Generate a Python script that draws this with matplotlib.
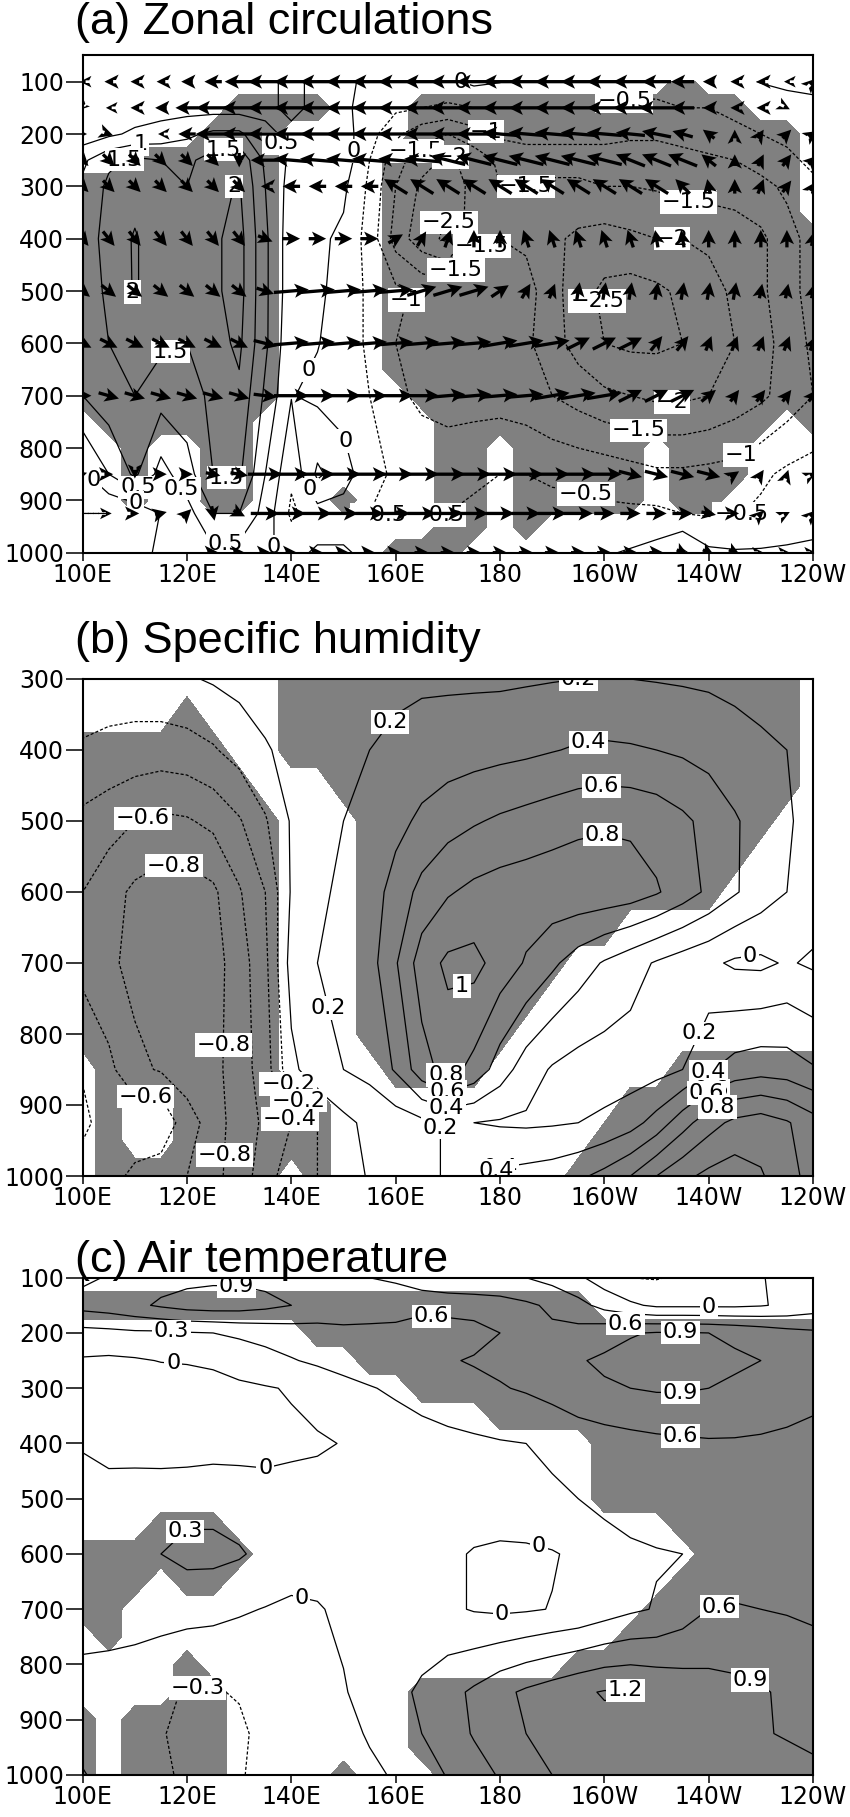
import numpy as np
import matplotlib
matplotlib.use("Agg")
import matplotlib.pyplot as plt

# ---------------- data ----------------
LON = [100, 105, 110, 115, 120, 125, 130, 135, 140, 145, 150, 155, 160, 165, 170,
       175, 180, 185, 190, 195, 200, 205, 210, 215, 220, 225, 230, 235, 240]
LEV_A = [100, 150, 200, 250, 300, 400, 500, 600, 700, 850, 925, 1000]
LEV_B = [300, 400, 500, 600, 700, 850, 925, 1000]
LEV_C = [100, 150, 200, 250, 300, 400, 500, 600, 700, 850, 925, 1000]
MASK_LEV_A = [100, 150, 200, 250, 300, 350, 400, 450, 500, 550, 600, 650, 700, 750, 800, 850, 900, 950, 1000]
MASK_LEV_B = [300, 350, 400, 450, 500, 550, 600, 650, 700, 750, 800, 850, 900, 950, 1000]
MASK_LEV_C = MASK_LEV_A

XTICKS = [100, 120, 140, 160, 180, 200, 220, 240]
XTICKLABELS = ["100E", "120E", "140E", "160E", "180", "160W", "140W", "120W"]

# (a) vertical-motion anomaly (contours)
A_FIELD = [
    [0.02, 0.02, 0.1, 0.1, 0.1, 0.2, 0.3, 0.4, 0.6, 0.4, 0.1, -0.1, -0.2, -0.2, -0.1, 0.1, 0.02, -0.2, -0.2, -0.3, -0.3, -0.3, -0.3, -0.3, -0.2, -0.1, 0.02, 0.1, 0.1],
    [0.1, 0.1, 0.2, 0.3, 0.3, 0.3, 0.3, 0.4, 0.6, 0.4, 0.1, -0.2, -0.4, -0.5, -0.6, -0.5, -0.5, -0.5, -0.5, -0.5, -0.5, -0.6, -0.6, -0.5, -0.5, -0.4, -0.3, -0.2, -0.1],
    [0.2, 0.4, 0.6, 0.7, 0.9, 1.1, 1.1, 0.6, 0.4, 0.4, 0.2, -0.3, -0.9, -1.3, -1.5, -1.2, -0.9, -0.8, -0.8, -0.8, -0.8, -0.9, -0.9, -0.8, -0.7, -0.6, -0.5, -0.4, -0.3],
    [0.9, 1.4, 1.6, 1.5, 1.4, 1.7, 1.9, 0.9, 0.4, 0.5, 0.3, -0.5, -1.3, -1.8, -2.1, -1.8, -1.4, -1.3, -1.3, -1.3, -1.3, -1.3, -1.3, -1.2, -1.1, -1.0, -0.8, -0.6, -0.4],
    [1.1, 1.6, 1.8, 1.6, 1.5, 1.8, 2.05, 1.0, 0.3, 0.3, 0.1, -0.6, -1.5, -2.1, -2.4, -1.8, -1.5, -1.5, -1.6, -1.6, -1.5, -1.5, -1.45, -1.3, -1.3, -1.25, -1.15, -0.9, -0.6],
    [1.2, 1.7, 2.05, 1.7, 1.6, 1.9, 2.2, 1.1, 0.2, 0.1, -0.1, -0.7, -1.7, -2.3, -2.6, -1.6, -1.5, -1.6, -1.9, -2.1, -2.2, -2.1, -2.0, -2.0, -1.9, -1.8, -1.6, -1.2, -0.8],
    [1.2, 1.6, 2.05, 1.7, 1.6, 1.9, 2.2, 1.1, 0.2, 0.1, -0.2, -0.6, -0.9, -1.1, -1.2, -1.1, -1.0, -1.3, -1.8, -2.3, -2.6, -2.7, -2.6, -2.4, -2.2, -1.9, -1.6, -1.2, -0.8],
    [1.2, 1.5, 1.7, 1.6, 1.5, 1.8, 2.1, 1.1, 0.1, 0.02, -0.2, -0.6, -1.0, -1.2, -1.3, -1.1, -1.1, -1.4, -1.8, -2.2, -2.5, -2.6, -2.6, -2.5, -2.3, -2.0, -1.7, -1.3, -0.9],
    [1.0, 1.3, 1.5, 1.2, 1.3, 1.6, 1.9, 0.9, 0.02, -0.1, -0.2, -0.5, -0.9, -1.1, -1.2, -1.2, -1.2, -1.3, -1.5, -1.7, -1.9, -2.0, -2.1, -2.1, -2.0, -1.8, -1.6, -1.3, -1.0],
    [-0.1, 0.5, 1.1, 0.3, 0.8, 1.5, 1.6, 0.5, -0.4, 0.6, 0.2, -0.3, -0.6, -0.7, -0.7, -0.6, -0.5, -0.5, -0.6, -0.65, -0.7, -0.8, -0.9, -0.9, -0.85, -0.8, -0.6, -0.4, -0.3],
    [-0.5, -0.5, -0.4, 0.02, 0.3, 1.0, 1.0, 0.3, -0.6, -0.2, -0.2, -0.5, -0.55, -0.55, -0.5, -0.4, -0.3, -0.3, -0.3, -0.3, -0.4, -0.4, -0.4, -0.5, -0.55, -0.55, -0.4, -0.2, -0.1],
    [-0.2, -0.2, -0.1, 0.05, 0.2, 0.4, 0.3, 0.05, -0.1, 0.05, 0.05, -0.1, -0.1, -0.1, -0.1, -0.05, -0.05, -0.05, -0.05, -0.05, -0.05, 0.05, 0.2, 0.6, 0.1, 0.05, 0.05, 0.05, 0.05],
]

# (a) zonal wind / vertical motion vectors
A_U = [
    [-2, -3, -3, -3, -4, -6, -10, -12, -12, -12, -12, -12, -12, -12, -12, -12, -12, -12, -12, -12, -12, -12, -10, -8, -4, -3, -3, -2, 2],
    [-1, -2, -3, -4, -8, -12, -12, -12, -12, -12, -12, -12, -12, -12, -12, -12, -12, -12, -12, -12, -12, -12, -12, -8, -4, -3, -3, 2, 0],
    [3, 3, 0, -2, -6, -12, -12, -12, -12, -12, -12, -12, -12, -12, -12, -12, -12, -12, -12, -12, -12, -10, -10, -7, -4, 0, 2, 3, 3],
    [4, 4, 4, 4, 4, 4, 0, -10, -12, -12, -12, -12, -12, -12, -12, -12, -12, -12, -12, -12, -12, -10, -10, -10, -5, 0, 2, 3, 3],
    [4, 4, 4, 4, 4, 4, 4, -3, -6, -6, -6, -6, -8, -8, -8, -8, -8, -8, -8, -8, -8, -8, -8, -5, -1, 0, 2, 3, 2],
    [4, 4, 4, 4, 4, 4, 4, 5, 6, 6, 6, 6, 5, 3, 2, 0, 0, -2, -2, -2, -2, -2, -1, -1, 0, 0, 0, 0, 1],
    [5, 5, 5, 5, 5, 5, 5, 6, 12, 12, 12, 12, 12, 10, 10, 10, 6, 3, 2, 1, 1, 1, 1, 1, 1, 1, 1, 1, 1],
    [6, 6, 6, 6, 6, 6, 6, 8, 12, 12, 12, 12, 12, 12, 12, 12, 12, 12, 12, 8, 8, 8, 4, 4, 2, 2, 2, 2, 2],
    [6, 7, 7, 7, 7, 7, 7, 8, 12, 12, 12, 12, 12, 12, 12, 12, 12, 12, 12, 12, 12, 8, 8, 8, 5, 3, 3, 3, 3],
    [3, 3, 0, 4, 4, 5, 6, 12, 12, 12, 12, 12, 12, 12, 12, 12, 12, 12, 12, 12, 12, 8, 8, 8, 8, 3, 2, 1, 2],
    [0, 2, 3, 4, 3, 1, 4, 10, 10, 10, 10, 10, 10, 10, 10, 10, 10, 10, 10, 10, 7, 7, 7, 7, 5, 3, 2, 2, 2],
    [0, 0, 0, 0, 0, 4, 4, 4, 4, 4, 4, 4, 4, 5, 5, 5, 5, 5, 5, 5, 5, 5, 5, 4, 4, 4, 2, 2, 2],
]
A_W = [
    [0, 0, 0, 0, 0, 0, 0, 0, 0, 0, 0, 0, 0, 0, 0, 0, 0, 0, 0, 0, 0, 0, 0, 0, 0, 0, 0, 0, 2],
    [-1, 0, 0, 0, 0, 0, 0, 0, 0, 0, 0, 0, 0, 0, 0, 0, 0, 0, 0, 0, 0, 0, 0, 0, 0, 0, 0, -1, 0],
    [0, -1, 0, 0, 0, 0, 0, 0, 0, 0, 0, 0, 0, 0, 0, 0, 1, 1, 1, 1, 1, 1, 2, 2, 3, 3, 3, 3, 2],
    [-4, -4, -4, -4, -4, -4, -5, 0, 1, 1, 1, 1, 1, 1, 3, 3, 3, 3, 3, 3, 3, 4, 4, 4, 4, 4, 4, 4, 3],
    [-4, -4, -4, -4, -4, -4, -4, 0, 0, 0, 0, 0, 5, 5, 5, 5, 5, 5, 5, 5, 5, 5, 5, 5, 5, 5, 5, 4, 3],
    [-5, -5, -5, -5, -5, -5, -5, -2, 0, 0, 0, 0, 3, 5, 6, 6, 6, 6, 6, 6, 6, 6, 6, 6, 6, 6, 6, 6, 5],
    [-4, -4, -4, -4, -4, -4, -4, -2, 1, 1, 1, 1, 1, 3, 3, 3, 4, 5, 5, 6, 6, 6, 6, 6, 6, 6, 5, 5, 5],
    [-3, -3, -3, -3, -3, -3, -3, -2, 1, 1, 1, 1, 1, 1, 1, 1, 2, 2, 2, 4, 4, 4, 5, 5, 5, 5, 5, 5, 5],
    [0, -2, -2, -2, -2, -2, -2, -1, 0, 0, 0, 0, 0, 0, 1, 1, 1, 1, 2, 2, 2, 4, 4, 4, 4, 4, 4, 4, 4],
    [1, 0, -3, 0, 0, -1, -1, 0, 0, 0, 0, 0, 0, 0, 0, 0, 0, 0, 0, 0, 0, -2, -2, -2, -2, 2, 3, 3, 1],
    [0, 0, 0, 1, 3, -5, -2, 0, 0, 0, 0, 0, 0, 0, 0, 0, 0, 0, 0, 0, 0, 0, 0, 0, -1, 0, 2, 1, 2],
    [0, 0, 0, 0, 0, 0, 0, 0, 0, 0, 0, 0, 0, 0, 0, 0, 0, 0, 0, 0, 0, 0, 0, -2, -2, -2, 0, 0, 0],
]

# (a) significance mask (1 = shaded)
A_MASK = [
    "00000000000000000000000100000",
    "00000011110001111111111111000",
    "00000111000001111111111111110",
    "00111111000011111111111111110",
    "11111111000011111111111111110",
    "11111111000011111111111111110",
    "11111111000011111111111111111",
    "11111111000011111111111111111",
    "11111111000011111111111111111",
    "11111111000011111111111111111",
    "11111111000011111111111111111",
    "11111111000011111111111111111",
    "11111111000001111111111111111",
    "01111110000000111111111111101",
    "00100110000000110111110111000",
    "00100110000000110111110111000",
    "00100110001000110111110110000",
    "00000000000000110100000000000",
    "00000000000011100000000000000",
]

# (b) specific humidity anomaly
B_FIELD = [
    [-0.10, -0.10, -0.08, -0.05, -0.02, 0.02, 0.06, 0.10, 0.12, 0.13, 0.14, 0.15, 0.16, 0.17, 0.17, 0.17, 0.17, 0.18, 0.19, 0.20, 0.21, 0.20, 0.19, 0.18, 0.17, 0.15, 0.12, 0.10, 0.08],
    [-0.22, -0.25, -0.28, -0.30, -0.28, -0.22, -0.12, -0.02, 0.06, 0.12, 0.16, 0.20, 0.24, 0.28, 0.30, 0.32, 0.34, 0.36, 0.39, 0.42, 0.43, 0.42, 0.40, 0.37, 0.33, 0.28, 0.24, 0.20, 0.14],
    [-0.45, -0.52, -0.60, -0.64, -0.62, -0.55, -0.42, -0.22, 0.02, 0.16, 0.20, 0.26, 0.34, 0.44, 0.52, 0.58, 0.63, 0.67, 0.71, 0.75, 0.77, 0.76, 0.72, 0.64, 0.54, 0.42, 0.32, 0.22, 0.14],
    [-0.60, -0.72, -0.84, -0.90, -0.90, -0.84, -0.62, -0.40, 0.02, 0.18, 0.22, 0.30, 0.48, 0.66, 0.78, 0.85, 0.89, 0.91, 0.93, 0.94, 0.93, 0.90, 0.82, 0.70, 0.56, 0.42, 0.30, 0.20, 0.12],
    [-0.66, -0.76, -0.86, -0.93, -0.93, -0.88, -0.70, -0.45, 0.08, 0.20, 0.24, 0.32, 0.58, 0.90, 1.04, 1.06, 0.92, 0.78, 0.64, 0.50, 0.38, 0.28, 0.18, 0.10, 0.04, -0.03, -0.04, 0.02, -0.03],
    [-0.42, -0.55, -0.75, -0.82, -0.86, -0.86, -0.70, -0.50, -0.05, 0.12, 0.20, 0.26, 0.42, 0.72, 0.88, 0.74, 0.50, 0.30, 0.18, 0.12, 0.10, 0.10, 0.13, 0.20, 0.38, 0.48, 0.52, 0.50, 0.42],
    [-0.35, -0.50, -0.45, -0.40, -0.75, -0.85, -0.75, -0.55, -0.40, -0.20, -0.05, 0.05, 0.10, 0.15, 0.22, 0.20, 0.18, 0.17, 0.18, 0.20, 0.24, 0.32, 0.48, 0.72, 0.92, 1.05, 1.10, 1.02, 0.88],
    [-0.50, -0.52, -0.65, -0.75, -0.80, -0.85, -0.72, -0.48, -0.30, -0.20, -0.10, 0.02, 0.10, 0.15, 0.22, 0.35, 0.44, 0.47, 0.50, 0.56, 0.66, 0.80, 1.00, 1.15, 1.25, 1.30, 1.22, 1.08, 0.92],
]
B_MASK = [
    "00000000111111111111111111110",
    "00001000111111111111111111110",
    "11111100111111111111111111110",
    "11111110001111111111111111110",
    "11111111000111111111111111100",
    "11111111000111111111111111000",
    "11111111000111111111111110000",
    "11111111000111111111100000000",
    "11111111000111111110000000000",
    "11111111000111111100000000000",
    "11111111000111111000000000000",
    "01111111000011110000000111111",
    "01001111110000000000011111111",
    "01001111110000000000111111111",
    "01111111010000000001111111111",
]

# (c) air temperature anomaly
C_FIELD = [
    [0.55, 0.62, 0.72, 0.80, 0.82, 0.84, 0.84, 0.82, 0.78, 0.70, 0.62, 0.60, 0.58, 0.55, 0.50, 0.45, 0.40, 0.30, 0.20, 0.05, -0.15, -0.30, -0.32, -0.25, -0.15, -0.10, -0.02, 0.10, 0.20],
    [0.70, 0.75, 0.84, 0.94, 1.02, 1.05, 1.04, 0.98, 0.90, 0.78, 0.72, 0.70, 0.68, 0.66, 0.68, 0.70, 0.70, 0.65, 0.55, 0.40, 0.20, 0.05, -0.05, -0.05, -0.05, -0.05, -0.02, 0.05, 0.15],
    [0.20, 0.22, 0.25, 0.25, 0.28, 0.30, 0.35, 0.40, 0.45, 0.50, 0.55, 0.55, 0.55, 0.50, 0.50, 0.52, 0.60, 0.62, 0.65, 0.70, 0.80, 0.88, 0.92, 0.92, 0.90, 0.85, 0.78, 0.70, 0.65],
    [-0.03, -0.05, -0.03, 0.01, 0.02, 0.05, 0.12, 0.20, 0.28, 0.35, 0.42, 0.48, 0.52, 0.55, 0.58, 0.62, 0.66, 0.72, 0.80, 0.88, 0.94, 0.98, 1.00, 1.00, 0.98, 0.94, 0.90, 0.82, 0.75],
    [-0.10, -0.12, -0.15, -0.15, -0.12, -0.10, -0.05, -0.02, 0.02, 0.10, 0.20, 0.28, 0.35, 0.42, 0.48, 0.53, 0.58, 0.63, 0.70, 0.80, 0.87, 0.90, 0.93, 0.93, 0.90, 0.86, 0.80, 0.72, 0.66],
    [-0.02, -0.10, -0.12, -0.15, -0.15, -0.12, -0.10, -0.08, -0.05, -0.03, 0.01, 0.05, 0.12, 0.18, 0.22, 0.25, 0.28, 0.30, 0.36, 0.42, 0.46, 0.50, 0.53, 0.55, 0.57, 0.57, 0.56, 0.55, 0.54],
    [0.10, 0.12, 0.15, 0.18, 0.20, 0.20, 0.15, 0.10, 0.10, 0.10, 0.12, 0.13, 0.14, 0.15, 0.15, 0.15, 0.16, 0.20, 0.25, 0.30, 0.36, 0.42, 0.46, 0.48, 0.50, 0.50, 0.50, 0.50, 0.50],
    [0.10, 0.15, 0.22, 0.30, 0.38, 0.38, 0.33, 0.22, 0.15, 0.12, 0.12, 0.12, 0.12, 0.10, 0.05, -0.02, -0.05, -0.05, -0.02, 0.05, 0.20, 0.25, 0.28, 0.30, 0.40, 0.45, 0.48, 0.50, 0.50],
    [0.12, 0.15, 0.15, 0.12, 0.10, 0.08, 0.03, -0.01, -0.05, -0.02, 0.05, 0.10, 0.12, 0.10, 0.05, -0.02, -0.05, -0.03, 0.01, 0.05, 0.15, 0.25, 0.32, 0.45, 0.60, 0.62, 0.60, 0.58, 0.55],
    [-0.10, -0.15, -0.20, -0.25, -0.32, -0.32, -0.28, -0.15, -0.10, -0.05, -0.02, 0.10, 0.22, 0.35, 0.50, 0.65, 0.82, 0.95, 1.05, 1.15, 1.22, 1.22, 1.15, 1.08, 1.02, 0.98, 0.93, 0.85, 0.80],
    [-0.05, -0.10, -0.18, -0.28, -0.38, -0.40, -0.35, -0.22, -0.12, -0.05, -0.03, 0.01, 0.15, 0.30, 0.48, 0.62, 0.78, 0.90, 1.00, 1.08, 1.12, 1.12, 1.08, 1.02, 0.98, 0.95, 0.92, 0.88, 0.85],
    [0.01, -0.05, -0.15, -0.25, -0.35, -0.40, -0.33, -0.20, -0.15, -0.10, -0.05, -0.02, 0.01, 0.15, 0.32, 0.50, 0.62, 0.75, 0.90, 0.98, 1.00, 1.02, 1.00, 0.98, 0.98, 1.00, 1.02, 1.00, 0.95],
]
C_MASK = [
    "00000000000000000000000000000",
    "11111111111111111111000000000",
    "00000000011111111111111111111",
    "00000000000111111111111111111",
    "00000000000001111111111111111",
    "00000000000000001111111111111",
    "00000000000000000000111111111",
    "00000000000000000000111111111",
    "00000000000000000000111111111",
    "00011100000000000000000111111",
    "11111110000000000000000011111",
    "11101100000000000000000111111",
    "11000000000000000000001111111",
    "01000000000000000000011111111",
    "00001000000000000001111111111",
    "00001100000001111111111111111",
    "10111100000001111111111111111",
    "10111100000001111111111111111",
    "10111100001000111111111111111",
]

# ---------------- style / layout ----------------
W, H = 850, 1817
fig = plt.figure(figsize=(W / 100, H / 100), dpi=100)
TICK_FONT = ["DejaVu Sans"]
TITLE_FONT = ["Liberation Sans", "DejaVu Sans"]
SHADE = "#808080"


def fmt(v):
    v = round(float(v), 2)
    if abs(v) < 1e-9:
        return "0"
    s = f"{abs(v):g}"
    return ("\u2212" if v < 0 else "") + s


def ax_rect(top_px, bot_px):
    left, right = 82.7, 813.0
    return [left / W, 1 - bot_px / H, (right - left) / W, (bot_px - top_px) / H]


def panel(ax, field, levs, mask, mask_levs, clevels, labpos, ylim, yticks):
    X, Y = np.meshgrid(LON, mask_levs)
    M = np.array([[int(c) for c in r] for r in mask], dtype=float)
    ax.contourf(X, Y, M, levels=[0.5, 1.5], colors=[SHADE], zorder=1)
    Xf, Yf = np.meshgrid(LON, levs)
    Z = np.array(field, dtype=float)
    ls = ["solid" if l >= -1e-9 else (0, (2.5, 1.6)) for l in clevels]
    cs = ax.contour(Xf, Yf, Z, levels=clevels, colors="k", linewidths=0.9,
                    linestyles=ls, zorder=2)
    ax.set_xlim(100, 240)
    ax.set_ylim(*ylim)
    texts = ax.clabel(cs, manual=labpos, inline=False, fontsize=16, fmt=fmt)
    for t in texts:
        t.set_rotation(0)
        t.set_bbox(dict(boxstyle="square,pad=0.08", fc="white", ec="none"))
        t.set_zorder(3)
        t.set_fontfamily(TICK_FONT)
    ax.set_xticks(XTICKS)
    ax.set_xticklabels(XTICKLABELS)
    ax.set_yticks(yticks)
    ax.set_yticklabels([str(v) for v in yticks])
    ax.tick_params(axis="x", direction="out", length=5.5, width=1.1, pad=2,
                   labelsize=17, top=False)
    ax.tick_params(axis="y", direction="out", length=12, width=1.1, pad=1.5,
                   labelsize=17, right=False)
    for lab in ax.get_xticklabels() + ax.get_yticklabels():
        lab.set_fontfamily(TICK_FONT)
    for sp in ax.spines.values():
        sp.set_linewidth(1.5)
        sp.set_zorder(6)


# panel (a)
axa = fig.add_axes(ax_rect(55.5, 552.7))
LAB_A = [(111, 210), (108, 250), (127, 228), (127, 288), (110, 500), (115, 580),
         (140, 212), (152, 232), (163, 225), (171, 235), (178, 178), (205, 172),
         (171, 368), (185, 340), (177, 425), (216, 345), (213, 427), (161, 515),
         (178, 515), (202, 513), (145, 660), (213, 690), (207, 750), (226, 810),
         (149, 790), (102, 861), (110, 868), (127, 878), (117, 890), (142, 887),
         (197, 873), (109, 932), (127, 963), (137, 989), (157, 920), (168, 926),
         (226, 920), (170, 110)]
panel(axa, A_FIELD, LEV_A, A_MASK, MASK_LEV_A,
      [-3.0, -2.5, -2.0, -1.5, -1.0, -0.5, 0.0, 0.5, 1.0, 1.5, 2.0, 2.5],
      LAB_A, (1000, 50), [100, 200, 300, 400, 500, 600, 700, 800, 900, 1000])

Xv, Yv = np.meshgrid(LON, LEV_A)
U = np.array(A_U, dtype=float)
V = np.array(A_W, dtype=float)
zero = (U == 0) & (V == 0)
U = np.ma.masked_where(zero, U)
V = np.ma.masked_where(zero, V)
axa.quiver(Xv, Yv, U, V, angles="uv", scale_units="dots", scale=1 / 2.9,
           units="dots", width=3.3, headwidth=4.3, headlength=4.3,
           headaxislength=3.5, minshaft=0.5, pivot="middle", color="k",
           zorder=4)

# panel (b)
axb = fig.add_axes(ax_rect(679.0, 1176.0))
LAB_B = [(159.5, 364), (199.5, 303), (197, 393), (199.5, 454), (199.5, 515),
         (173, 740), (112, 507), (117.5, 565), (120, 815), (112, 890),
         (127, 970), (145, 767), (141, 866), (142, 890), (140, 919),
         (170, 852), (170, 879), (170, 897), (170, 932), (179, 964),
         (179, 990), (227.5, 669), (219, 802), (219, 844), (220, 872),
         (220, 887), (222, 908)]
panel(axb, B_FIELD, LEV_B, B_MASK, MASK_LEV_B,
      [-1.0, -0.8, -0.6, -0.4, -0.2, 0.0, 0.2, 0.4, 0.6, 0.8, 1.0, 1.2, 1.4],
      LAB_B, (1000, 300), [300, 400, 500, 600, 700, 800, 900, 1000])

# panel (c)
axc = fig.add_axes(ax_rect(1277.7, 1775.0))
LAB_C = [(129.4, 120), (117, 193), (117.5, 242), (135, 460), (166.8, 179),
         (204, 185), (220, 155), (214.6, 204), (214.6, 312), (214.6, 381),
         (119.5, 558), (187.6, 579), (142.4, 660), (180.3, 712), (221.8, 684),
         (204, 849), (227, 849), (122, 838)]
panel(axc, C_FIELD, LEV_C, C_MASK, MASK_LEV_C,
      [-0.6, -0.3, 0.0, 0.3, 0.6, 0.9, 1.2, 1.5],
      LAB_C, (1000, 100), [100, 200, 300, 400, 500, 600, 700, 800, 900, 1000])

# titles
for txt, base in [("(a) Zonal circulations", 34),
                  ("(b) Specific humidity", 653),
                  ("(c) Air temperature", 1272)]:
    fig.text(75 / W, 1 - base / H, txt, fontsize=32.5, family=TITLE_FONT,
             ha="left", va="baseline")

fig.savefig("out.png", dpi=100)
